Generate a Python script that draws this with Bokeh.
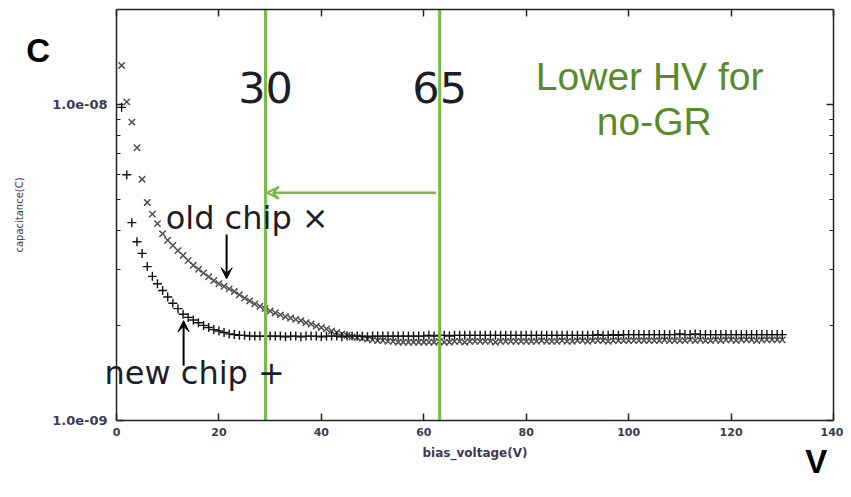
import math
from bokeh.plotting import figure
from bokeh.models import (Range1d, FixedTicker, LogAxis, LinearAxis, Arrow,
                          VeeHead, Label, CustomJSTickFormatter)
from bokeh.embed import file_html
from bokeh.resources import INLINE

# ---------------- data ----------------
VOLTAGE = list(range(1, 131))  # bias voltage (V), 1 V steps

# capacitance in units of 1e-9 F
OLD_CHIP = [13.3, 10.2, 8.8, 7.3, 5.8, 4.9, 4.5, 4.2, 3.9, 3.72,
            3.58, 3.45, 3.33, 3.21, 3.10, 3.01, 2.93, 2.85, 2.77, 2.71,
            2.66, 2.61, 2.56, 2.50, 2.44, 2.39, 2.34, 2.30, 2.26, 2.22,
            2.19, 2.16, 2.13, 2.11, 2.09, 2.07, 2.04, 2.02, 1.99, 1.97,
            1.95, 1.92, 1.90, 1.88, 1.86, 1.84, 1.83, 1.82, 1.81, 1.80,
            1.79, 1.79, 1.78, 1.78, 1.77, 1.77, 1.77, 1.77, 1.77, 1.77,
            1.77, 1.77, 1.78, 1.77, 1.77, 1.78, 1.78, 1.77, 1.78, 1.78,
            1.78, 1.78, 1.78, 1.77, 1.78, 1.78, 1.78, 1.78, 1.78, 1.78,
            1.78, 1.78, 1.79, 1.78, 1.78, 1.78, 1.79, 1.78, 1.78, 1.79,
            1.79, 1.78, 1.79, 1.79, 1.79, 1.78, 1.79, 1.79, 1.79, 1.79,
            1.79, 1.79, 1.79, 1.79, 1.79, 1.79, 1.80, 1.79, 1.79, 1.79,
            1.79, 1.80, 1.79, 1.80, 1.79, 1.79, 1.80, 1.79, 1.80, 1.80,
            1.79, 1.80, 1.80, 1.80, 1.79, 1.80, 1.80, 1.80, 1.80, 1.80]

NEW_CHIP = [9.8, 6.0, 4.23, 3.68, 3.38, 3.07, 2.86, 2.71, 2.58, 2.46,
            2.35, 2.26, 2.17, 2.12, 2.08, 2.04, 2.00, 1.97, 1.94, 1.92,
            1.90, 1.88, 1.87, 1.86, 1.86, 1.85, 1.85, 1.85, 1.85, 1.85,
            1.85, 1.85, 1.84, 1.85, 1.85, 1.84, 1.85, 1.85, 1.85, 1.84,
            1.85, 1.85, 1.85, 1.84, 1.85, 1.85, 1.85, 1.85, 1.84, 1.85,
            1.85, 1.85, 1.85, 1.85, 1.85, 1.85, 1.85, 1.85, 1.85, 1.85,
            1.86, 1.85, 1.86, 1.86, 1.85, 1.86, 1.86, 1.86, 1.86, 1.86,
            1.86, 1.86, 1.86, 1.86, 1.86, 1.86, 1.86, 1.86, 1.86, 1.86,
            1.86, 1.86, 1.86, 1.86, 1.86, 1.86, 1.86, 1.86, 1.86, 1.86,
            1.86, 1.86, 1.86, 1.87, 1.86, 1.86, 1.87, 1.86, 1.87, 1.87,
            1.87, 1.87, 1.87, 1.87, 1.87, 1.87, 1.87, 1.87, 1.87, 1.88,
            1.87, 1.87, 1.88, 1.87, 1.87, 1.87, 1.87, 1.87, 1.87, 1.87,
            1.87, 1.87, 1.87, 1.87, 1.87, 1.87, 1.87, 1.87, 1.87, 1.87]

UNIT = 1e-9
X_TICKS = [0, 20, 40, 60, 80, 100, 120, 140]
Y_MAJOR = [1e-9, 1e-8]
Y_MINOR = [2e-9, 3e-9, 4e-9, 5e-9, 6e-9, 7e-9, 8e-9, 9e-9]
X_BOX = (0, 140)          # plotted box limits (data)
Y_BOX = (1e-9, 2e-8)

MARK_LINES = [29.1, 63.1]          # the two green voltage markers
MARK_LABELS = ["30", "65"]
GREEN_ARROW = dict(x0=62.4, x1=29.4, y=5.26e-9)
OLD_ARROW = dict(x=21.5, y0=3.88e-9, y1=2.81e-9)
NEW_ARROW = dict(x=13.1, y0=1.49e-9, y1=2.07e-9)

GREEN = "#79bc45"
TEXT_GREEN = "#5b8a2b"
INK = "#1e1e2a"
AXIS_TXT = "#3c3a52"
FRAME = "#222222"

# ---------------- layout (pixels) ----------------
W, H = 843, 489
BOX_PX = dict(left=116, right=833, top=9, bottom=420)   # where the box sits on the canvas

sx = (BOX_PX["right"] - BOX_PX["left"]) / (X_BOX[1] - X_BOX[0])
x_lo = X_BOX[0] - BOX_PX["left"] / sx
x_hi = X_BOX[1] + (W - BOX_PX["right"]) / sx
dec = (BOX_PX["bottom"] - BOX_PX["top"]) / (math.log10(Y_BOX[1]) - math.log10(Y_BOX[0]))
y_lo = Y_BOX[0] * 10 ** (-(H - BOX_PX["bottom"]) / dec)
y_hi = Y_BOX[1] * 10 ** (BOX_PX["top"] / dec)

p = figure(width=W, height=H,
           x_range=Range1d(x_lo, x_hi), y_range=Range1d(y_lo, y_hi),
           y_axis_type="log", x_axis_location=None, y_axis_location=None,
           output_backend="svg", toolbar_location=None,
           min_border_left=0, min_border_right=0, min_border_top=0, min_border_bottom=0)
p.grid.visible = False
p.outline_line_color = None
p.background_fill_color = "white"
p.border_fill_color = "white"

fmt = CustomJSTickFormatter(code="""
const e = Math.round(Math.log10(tick));
const a = Math.abs(e);
return "1.0e" + (e < 0 ? "-" : "+") + (a < 10 ? "0" + a : "" + a);
""")


def style(ax, labels=True):
    ax.axis_line_color = FRAME
    ax.axis_line_width = 1.5
    ax.major_tick_line_color = FRAME
    ax.minor_tick_line_color = FRAME
    ax.major_tick_line_width = 1.5
    ax.minor_tick_line_width = 1.2
    ax.major_tick_in = 7
    ax.major_tick_out = 0
    ax.minor_tick_in = 4
    ax.minor_tick_out = 0
    if labels:
        ax.major_label_text_font = "DejaVu Sans"
        ax.major_label_text_font_style = "bold"
        ax.major_label_text_color = AXIS_TXT
    else:
        ax.major_label_text_font_size = "1px"
        ax.major_label_text_color = None
        ax.major_label_standoff = 0


xa = LinearAxis(ticker=FixedTicker(ticks=X_TICKS, minor_ticks=[]),
                fixed_location=Y_BOX[0], bounds=X_BOX)
style(xa)
xa.major_label_text_font_size = "11px"
xa.major_label_standoff = 7
xa.axis_label = "bias_voltage(V)"
xa.axis_label_text_font = "DejaVu Sans"
xa.axis_label_text_font_style = "bold"
xa.axis_label_text_font_size = "12px"
xa.axis_label_text_color = AXIS_TXT
xa.axis_label_standoff = 7
p.add_layout(xa, "below")

ya = LogAxis(ticker=FixedTicker(ticks=Y_MAJOR, minor_ticks=Y_MINOR),
             formatter=fmt, fixed_location=X_BOX[0], bounds=Y_BOX)
style(ya)
ya.major_label_text_font_size = "13px"
ya.major_label_standoff = 9
ya.axis_label = "capacitance(C)"
ya.axis_label_text_font = "DejaVu Sans"
ya.axis_label_text_font_style = "normal"
ya.axis_label_text_font_size = "10px"
ya.axis_label_text_color = AXIS_TXT
ya.axis_label_standoff = 24
p.add_layout(ya, "left")

top = LinearAxis(ticker=FixedTicker(ticks=X_TICKS, minor_ticks=[]),
                 fixed_location=Y_BOX[1], bounds=X_BOX)
style(top, labels=False)
p.add_layout(top, "above")
right = LogAxis(ticker=FixedTicker(ticks=Y_MAJOR, minor_ticks=Y_MINOR),
                fixed_location=X_BOX[1], bounds=Y_BOX)
style(right, labels=False)
p.add_layout(right, "right")

# ---------------- data marks ----------------
old_c = [v * UNIT for v in OLD_CHIP]
new_c = [v * UNIT for v in NEW_CHIP]
p.scatter(VOLTAGE, old_c, marker="x", size=9, line_color="#505050", line_width=1.5)
p.scatter(VOLTAGE, new_c, marker="cross", size=9, line_color="#111111", line_width=1.4)

# green marker lines spanning the box
p.segment(x0=MARK_LINES, x1=MARK_LINES, y0=Y_BOX[0], y1=Y_BOX[1],
          line_color=GREEN, line_width=3)

# ---------------- annotations ----------------
p.add_layout(Arrow(end=VeeHead(size=12, line_color=GREEN, line_width=2, fill_alpha=0),
                   x_start=GREEN_ARROW["x0"], y_start=GREEN_ARROW["y"],
                   x_end=GREEN_ARROW["x1"], y_end=GREEN_ARROW["y"],
                   line_color=GREEN, line_width=2.5))
for arr in (OLD_ARROW, NEW_ARROW):
    p.add_layout(Arrow(end=VeeHead(size=11, line_color="black", fill_color="black", line_width=1),
                       x_start=arr["x"], y_start=arr["y0"], x_end=arr["x"], y_end=arr["y1"],
                       line_color="black", line_width=2))

for loc, txt in zip(MARK_LINES, MARK_LABELS):
    p.add_layout(Label(x=loc, y=1.13e-8, text=txt, text_align="center",
                       text_baseline="alphabetic", text_font="DejaVu Sans",
                       text_font_size="43px", text_color=INK))

p.add_layout(Label(x=104.1, y=1.23e-8, text="Lower HV for", text_align="center",
                   text_baseline="alphabetic", text_font="Liberation Sans",
                   text_font_size="39px", text_color=TEXT_GREEN))
p.add_layout(Label(x=105.0, y=8.85e-9, text="no-GR", text_align="center",
                   text_baseline="alphabetic", text_font="Liberation Sans",
                   text_font_size="39px", text_color=TEXT_GREEN))

p.add_layout(Label(x=9.6, y=4.39e-9, text="old chip \u00d7", text_align="left",
                   text_baseline="alphabetic", text_font="DejaVu Sans",
                   text_font_size="32px", text_color=INK))
p.add_layout(Label(x=-2.34, y=1.41e-9, text="new chip +", text_align="left",
                   text_baseline="alphabetic", text_font="DejaVu Sans",
                   text_font_size="32px", text_color=INK))

p.add_layout(Label(x=-17.6, y=1.48e-8, text="C", text_align="left",
                   text_baseline="alphabetic", text_font="Liberation Sans",
                   text_font_style="bold", text_font_size="33px", text_color="black"))
p.add_layout(Label(x=134.5, y=7.4e-10, text="V", text_align="left",
                   text_baseline="alphabetic", text_font="Liberation Sans",
                   text_font_style="bold", text_font_size="33px", text_color="black"))

open("out.html", "w").write(file_html(p, INLINE))
